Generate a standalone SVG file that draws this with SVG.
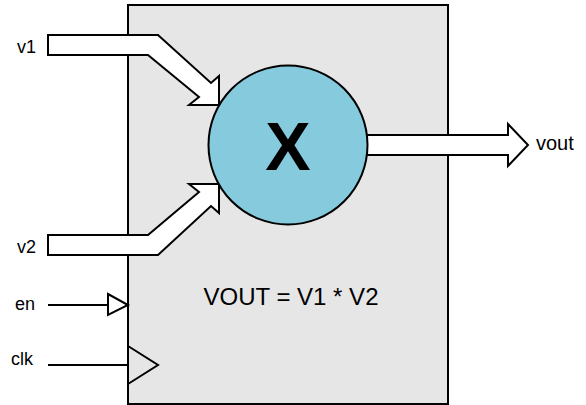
<svg xmlns="http://www.w3.org/2000/svg" width="586" height="405" viewBox="0 0 586 405">
<style>
text{font-family:"Liberation Sans",Arial,sans-serif;fill:#000}
.lbl{font-size:18px}
.ln{fill:none;stroke:#000;stroke-width:2}
.arr{fill:#fff;stroke:#000;stroke-width:2;stroke-linejoin:miter}
</style>
<rect width="586" height="405" fill="#fff"/>
<g id="block">
<rect x="128" y="5" width="320" height="399" fill="#e6e6e6" stroke="#000" stroke-width="2"/>
<text x="291" y="305" font-size="24" text-anchor="middle">VOUT = V1 * V2</text>
</g>
<g id="connectors">
<path class="arr" d="M48,35 L158,35 L211,83 L219,76 L219,105 L189,105 L199,97 L148,55 L48,55 Z"/>
<path class="arr" d="M48,235 L148,235 L199,192 L189,184 L219,184 L219,213 L211,206 L158,255 L48,255 Z"/>
<path class="arr" d="M360,135 L508,135 L508,124 L528,145 L508,166 L508,155 L360,155 Z"/>
<line class="ln" x1="48" y1="305" x2="108" y2="305"/>
<path class="ln" d="M108,294 L128,305 L108,315 Z"/>
<line class="ln" x1="48" y1="365" x2="128" y2="365"/>
<path class="ln" d="M128,346 L158,365 L128,384"/>
</g>
<g id="mult">
<circle cx="288" cy="145" r="79.5" fill="#86cadd" stroke="#000" stroke-width="2"/>
<text x="288" y="170" font-size="68" font-weight="bold" text-anchor="middle">X</text>
</g>
<g id="labels">
<text class="lbl" x="17" y="52.5">v1</text>
<text class="lbl" x="17" y="252.5">v2</text>
<text class="lbl" x="15" y="310">en</text>
<text class="lbl" x="11" y="365">clk</text>
<text x="536" y="150" font-size="20">vout</text>
</g>
</svg>
